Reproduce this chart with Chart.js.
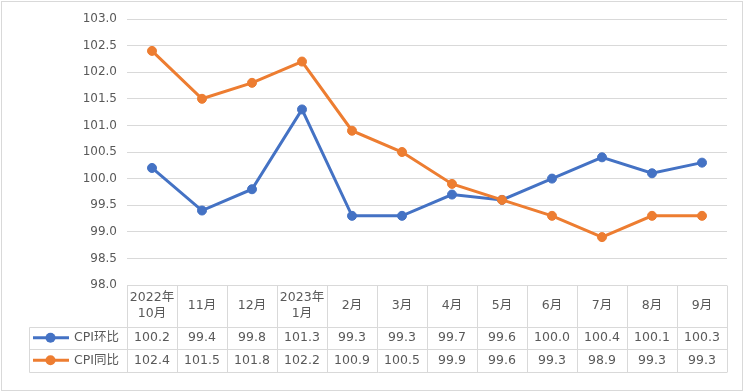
<!DOCTYPE html>
<html>
<head>
<meta charset="utf-8">
<script src="https://cdn.jsdelivr.net/npm/chart.js@4.4.1/dist/chart.umd.min.js"></script>
<style>
  html, body { margin: 0; padding: 0; background: #fff; }
  #wrap { width: 745px; height: 392px; position: relative; }
</style>
</head>
<body>
<div id="wrap"><canvas id="c" width="745" height="392"></canvas></div>
<script>
// ---- data ----
const categories = [["2022年","10月"], "11月", "12月", ["2023年","1月"], "2月", "3月", "4月", "5月", "6月", "7月", "8月", "9月"];
const seriesNames = ["CPI环比", "CPI同比"];
const cpiMoM = [100.2, 99.4, 99.8, 101.3, 99.3, 99.3, 99.7, 99.6, 100.0, 100.4, 100.1, 100.3];
const cpiYoY = [102.4, 101.5, 101.8, 102.2, 100.9, 100.5, 99.9, 99.6, 99.3, 98.9, 99.3, 99.3];
const yMin = 98.0, yMax = 103.0, yStep = 0.5;

const BLUE = "#4472C4", ORANGE = "#ED7D31";
const TEXT = "#595959", GRID = "#D9D9D9";
const FONT = '"DejaVu Sans", "Noto Sans CJK SC", sans-serif';

const frame = {
  id: 'frame',
  beforeDraw(chart) {
    const ctx = chart.ctx;
    ctx.save();
    ctx.fillStyle = '#fff';
    ctx.fillRect(0, 0, chart.width, chart.height);
    ctx.strokeStyle = GRID;
    ctx.lineWidth = 1;
    ctx.strokeRect(1.5, 1.5, chart.width - 4, chart.height - 3);
    ctx.restore();
  }
};

const dataTable = {
  id: 'dataTable',
  afterDraw(chart) {
    const { ctx, chartArea: ca, scales: { x } } = chart;
    const n = categories.length;
    const colW = x.getPixelForValue(1) - x.getPixelForValue(0);
    const left = x.getPixelForValue(0) - colW / 2;
    const right = x.getPixelForValue(n - 1) + colW / 2;
    const top = Math.round(ca.bottom) + 0.5;
    const hdrH = 41, rowH = 22.5;
    const r1 = top + hdrH, r2 = r1 + rowH, r3 = r2 + rowH;
    const legLeft = 29.5;
    ctx.save();
    ctx.strokeStyle = GRID;
    ctx.lineWidth = 1;
    ctx.beginPath();
    ctx.moveTo(left, top); ctx.lineTo(right, top);
    [r1, r2, r3].forEach(yy => { const y = Math.round(yy) + 0.5; ctx.moveTo(legLeft, y); ctx.lineTo(right, y); });
    for (let i = 0; i <= n; i++) {
      const xx = Math.round(left + i * colW) + 0.5;
      ctx.moveTo(xx, top); ctx.lineTo(xx, Math.round(r3) + 0.5);
    }
    ctx.moveTo(legLeft, Math.round(r1) + 0.5); ctx.lineTo(legLeft, Math.round(r3) + 0.5);
    ctx.stroke();

    ctx.fillStyle = TEXT;
    ctx.font = '12.5px ' + FONT;
    ctx.textAlign = 'center';
    ctx.textBaseline = 'middle';
    categories.forEach((c, i) => {
      const cx = x.getPixelForValue(i);
      const mid = (top + r1) / 2;
      if (Array.isArray(c)) {
        ctx.fillText(c[0], cx, mid - 8);
        ctx.fillText(c[1], cx, mid + 8);
      } else {
        ctx.fillText(c, cx, mid);
      }
    });
    const rows = [[cpiMoM, BLUE, r1, r2], [cpiYoY, ORANGE, r2, r3]];
    rows.forEach(([vals, col, ya, yb], k) => {
      const cy = (ya + yb) / 2;
      ctx.fillStyle = TEXT;
      ctx.textAlign = 'center';
      vals.forEach((v, i) => ctx.fillText(v.toFixed(1), x.getPixelForValue(i), cy));
      ctx.strokeStyle = col; ctx.lineWidth = 3;
      ctx.beginPath(); ctx.moveTo(33, cy); ctx.lineTo(69, cy); ctx.stroke();
      ctx.fillStyle = col;
      ctx.beginPath(); ctx.arc(50.5, cy, 5, 0, Math.PI * 2); ctx.fill();
      ctx.fillStyle = TEXT;
      ctx.textAlign = 'left';
      ctx.fillText(seriesNames[k], 74, cy);
    });
    ctx.restore();
  }
};

new Chart(document.getElementById('c'), {
  type: 'line',
  data: {
    labels: categories,
    datasets: [
      { label: seriesNames[0], data: cpiMoM, borderColor: BLUE, backgroundColor: BLUE,
        borderWidth: 3, pointRadius: 4.5, pointBorderWidth: 1, pointBackgroundColor: BLUE, order: 1, tension: 0 },
      { label: seriesNames[1], data: cpiYoY, borderColor: ORANGE, backgroundColor: ORANGE,
        borderWidth: 3, pointRadius: 4.5, pointBorderWidth: 1, pointBackgroundColor: ORANGE, order: 0, tension: 0 }
    ]
  },
  options: {
    responsive: false,
    animation: false,
    devicePixelRatio: 1,
    layout: { padding: { top: 19, bottom: 107, right: 18, left: 0 } },
    plugins: { legend: { display: false }, tooltip: { enabled: false } },
    scales: {
      x: { type: 'category', offset: true, display: false },
      y: {
        min: yMin, max: yMax,
        afterFit(s) { s.width = 127; },
        border: { display: false },
        grid: { color: GRID, lineWidth: 1, drawTicks: false },
        ticks: {
          stepSize: yStep, padding: 10, color: TEXT,
          font: { family: FONT, size: 12 },
          callback: v => Number(v).toFixed(1)
        }
      }
    }
  },
  plugins: [frame, dataTable]
});
</script>
</body>
</html>
